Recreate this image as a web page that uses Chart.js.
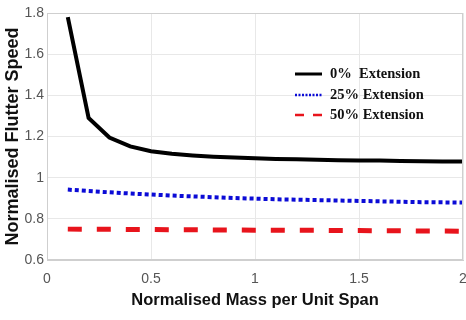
<!DOCTYPE html>
<html>
<head>
<meta charset="utf-8">
<script src="https://cdn.jsdelivr.net/npm/chart.js@4/dist/chart.umd.min.js"></script>
<style>
  html, body { margin: 0; padding: 0; background: #fff; }
  #wrap { width: 466px; height: 320px; position: relative; }
</style>
</head>
<body>
<div id="wrap"><canvas id="c" width="466" height="320"></canvas></div>
<script>
// Normalised mass per unit span (x) and flutter speed for each extension case
const massValues = [0.1, 0.2, 0.3, 0.4, 0.5, 0.6, 0.7, 0.8, 0.9, 1.0,
                    1.1, 1.2, 1.3, 1.4, 1.5, 1.6, 1.7, 1.8, 1.9, 2.0];
const ext0  = [1.78, 1.29, 1.195, 1.152, 1.128, 1.116, 1.108, 1.102, 1.098, 1.094,
               1.091, 1.089, 1.087, 1.085, 1.084, 1.083, 1.081, 1.080, 1.079, 1.078];
const ext25 = [0.942, 0.935, 0.929, 0.923, 0.918, 0.913, 0.909, 0.905, 0.901, 0.898,
               0.895, 0.893, 0.891, 0.889, 0.887, 0.885, 0.883, 0.881, 0.880, 0.879];
const ext50 = [0.750, 0.749, 0.749, 0.748, 0.748, 0.747, 0.747, 0.746, 0.746, 0.745,
               0.745, 0.744, 0.744, 0.743, 0.743, 0.742, 0.742, 0.741, 0.741, 0.740];
const seriesLabels = ['0%  Extension', '25% Extension', '50% Extension'];
const xTicks = [0, 0.5, 1, 1.5, 2];
const yTicks = [0.6, 0.8, 1, 1.2, 1.4, 1.6, 1.8];

const toPoints = ys => massValues.map((x, i) => ({ x: x, y: ys[i] }));

// Legend drawn inside the plot area, upper right
const insideLegend = {
  id: 'insideLegend',
  afterDraw(chart) {
    const ctx = chart.ctx;
    const rows = [74, 95, 115];
    const x0 = 295, x1 = 322;
    ctx.save();
    chart.data.datasets.forEach((ds, i) => {
      const y = rows[i];
      ctx.strokeStyle = ds.borderColor;
      ctx.lineWidth = i === 0 ? 3 : 2.5;
      ctx.lineCap = 'butt';
      ctx.setLineDash(i === 1 ? [2, 1.5] : (i === 2 ? [9, 9] : []));
      ctx.beginPath();
      ctx.moveTo(x0, y);
      ctx.lineTo(x1, y);
      ctx.stroke();
      ctx.setLineDash([]);
      ctx.fillStyle = '#111';
      ctx.font = 'bold 14.5px "Liberation Serif", "DejaVu Serif", serif';
      ctx.textBaseline = 'middle';
      ctx.textAlign = 'left';
      ctx.fillText(ds.label, 330, y);
    });
    ctx.restore();
  }
};

const sans = '"Liberation Sans", Arial, sans-serif';

new Chart(document.getElementById('c'), {
  type: 'line',
  data: {
    datasets: [
      { label: seriesLabels[0], data: toPoints(ext0), borderColor: '#000000',
        borderWidth: 4, pointRadius: 0, tension: 0 },
      { label: seriesLabels[1], data: toPoints(ext25), borderColor: '#0b0bd6',
        borderWidth: 4, borderDash: [4, 3], pointRadius: 0, tension: 0 },
      { label: seriesLabels[2], data: toPoints(ext50), borderColor: '#e8141c',
        borderWidth: 5, borderDash: [14, 15], pointRadius: 0, tension: 0 }
    ]
  },
  options: {
    responsive: false,
    animation: false,
    layout: { padding: { top: 13, right: 3, left: 0, bottom: 0 } },
    plugins: { legend: { display: false }, tooltip: { enabled: false } },
    scales: {
      x: {
        type: 'linear', min: 0, max: 2,
        afterBuildTicks: axis => { axis.ticks = xTicks.map(v => ({ value: v })); },
        afterFit: axis => { axis.height = 60; axis.paddingRight = 0; axis.paddingLeft = 0; },
        grid: { color: '#e8e8e8', drawTicks: false, lineWidth: 1 },
        border: { color: '#cfcfcf', width: 1 },
        ticks: {
          padding: 11, color: '#555',
          font: { family: sans, size: 14 },
          callback: v => String(v)
        },
        title: {
          display: true, text: 'Normalised Mass per Unit Span', color: '#111',
          font: { family: sans, size: 16.5, weight: 'bold' },
          padding: { top: 0, bottom: 10 }
        }
      },
      y: {
        type: 'linear', min: 0.6, max: 1.8,
        afterBuildTicks: axis => { axis.ticks = yTicks.map(v => ({ value: v })); },
        afterFit: axis => { axis.width = 47; axis.paddingTop = 0; axis.paddingBottom = 0; },
        grid: { color: '#e8e8e8', drawTicks: false, lineWidth: 1 },
        border: { color: '#cfcfcf', width: 1 },
        ticks: {
          padding: 3, color: '#555',
          font: { family: sans, size: 14 },
          callback: v => String(Math.round(v * 10) / 10)
        },
        title: {
          display: true, text: 'Normalised Flutter Speed', color: '#111',
          font: { family: sans, size: 18, weight: 'bold' },
          padding: { top: 2, bottom: 0 }
        }
      }
    }
  },
  plugins: [insideLegend, {
    id: 'frame',
    afterDraw(chart) {
      const a = chart.chartArea, ctx = chart.ctx;
      ctx.save();
      ctx.strokeStyle = '#cfcfcf';
      ctx.lineWidth = 1;
      ctx.strokeRect(a.left + 0.5, a.top + 0.5, a.right - a.left - 1, a.bottom - a.top - 1);
      ctx.restore();
    }
  }]
});
</script>
</body>
</html>
